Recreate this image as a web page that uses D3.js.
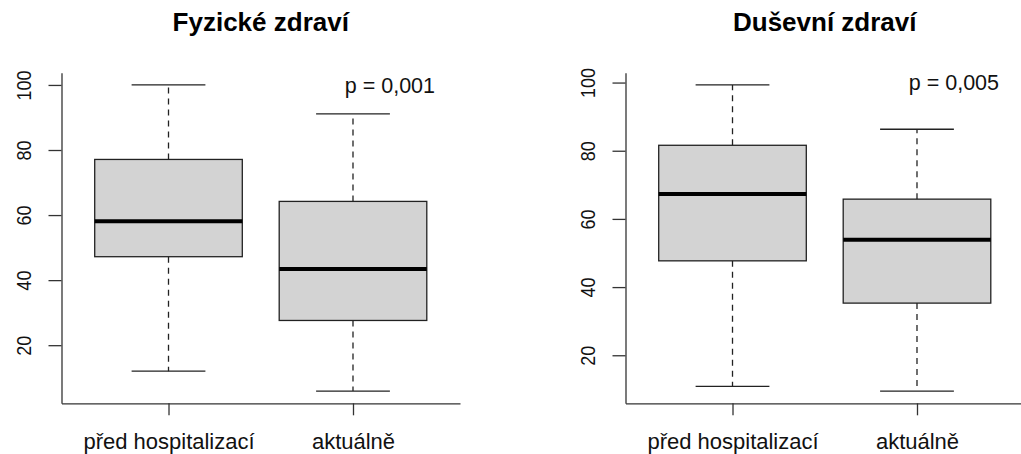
<!DOCTYPE html>
<html lang="cs">
<head>
<meta charset="utf-8">
<title>Fyzické a duševní zdraví</title>
<script src="https://cdn.jsdelivr.net/npm/d3@7"></script>
<style>
  html, body { margin: 0; padding: 0; background: #ffffff; }
  svg { display: block; font-family: "Liberation Sans", Arial, Helvetica, sans-serif; }
</style>
</head>
<body>
<svg id="chart" width="1021" height="454"></svg>
<script>
// Groups on the x axis
const categories = ["před hospitalizací", "aktuálně"];
// Panel titles and test results
const panelTitles = ["Fyzické zdraví", "Duševní zdraví"];
const pLabels = ["p = 0,001", "p = 0,005"];
// Y axis tick values
const yTicks = [20, 40, 60, 80, 100];

// Five-number summaries: [min, Q1, median, Q3, max]
const fyzickePred      = [12.0, 47.2, 58.1, 77.1, 100.0];
const fyzickeAktualne  = [ 5.9, 27.6, 43.4, 64.2,  91.1];
const dusevniPred      = [10.9, 47.7, 67.3, 81.6,  99.3];
const dusevniAktualne  = [ 9.5, 35.3, 53.9, 65.8,  86.3];

const panels = [
  { title: panelTitles[0], p: pLabels[0], boxes: [fyzickePred, fyzickeAktualne] },
  { title: panelTitles[1], p: pLabels[1], boxes: [dusevniPred, dusevniAktualne] }
];

const svg = d3.select("#chart");
const plotTop = 72.7, plotBottom = 403.3;
const panelLeft = [61.5, 625.5];
const panelWidth = 398.5;
const axisColor = "#333";

panels.forEach((panel, i) => {
  const x0 = panelLeft[i];
  const g = svg.append("g");

  // x: positions 1..n, padded like a base-R boxplot (0.5 either side, then 4%)
  const xlo = 0.5, xhi = categories.length + 0.5;
  const xpad = (xhi - xlo) * 0.04;
  const x = d3.scaleLinear().domain([xlo - xpad, xhi + xpad]).range([x0, x0 + panelWidth]);

  // y: data range padded by 4%
  const lo = d3.min(panel.boxes, b => b[0]);
  const hi = d3.max(panel.boxes, b => b[4]);
  const ypad = (hi - lo) * 0.04;
  const y = d3.scaleLinear().domain([lo - ypad, hi + ypad]).range([plotBottom, plotTop]);

  // Boxes
  const boxW = 0.8, capW = 0.4;
  panel.boxes.forEach((b, k) => {
    const c = k + 1;
    const bg = g.append("g");
    // whiskers (dashed)
    bg.append("line")
      .attr("x1", x(c)).attr("x2", x(c)).attr("y1", y(b[3])).attr("y2", y(b[4]))
      .attr("stroke", "#222").attr("stroke-width", 1.3).attr("stroke-dasharray", "6,5");
    bg.append("line")
      .attr("x1", x(c)).attr("x2", x(c)).attr("y1", y(b[1])).attr("y2", y(b[0]))
      .attr("stroke", "#222").attr("stroke-width", 1.3).attr("stroke-dasharray", "6,5");
    // caps
    [b[0], b[4]].forEach(v => {
      bg.append("line")
        .attr("x1", x(c - capW / 2)).attr("x2", x(c + capW / 2))
        .attr("y1", y(v)).attr("y2", y(v))
        .attr("stroke", "#222").attr("stroke-width", 1.3);
    });
    // box
    bg.append("rect")
      .attr("x", x(c - boxW / 2)).attr("width", x(c + boxW / 2) - x(c - boxW / 2))
      .attr("y", y(b[3])).attr("height", y(b[1]) - y(b[3]))
      .attr("fill", "#d3d3d3").attr("stroke", "#222").attr("stroke-width", 1.3);
    // median
    bg.append("line")
      .attr("x1", x(c - boxW / 2)).attr("x2", x(c + boxW / 2))
      .attr("y1", y(b[2])).attr("y2", y(b[2]))
      .attr("stroke", "#000").attr("stroke-width", 4);
  });

  // Y axis (labels turned parallel to the axis)
  const yAxis = g.append("g")
    .attr("transform", `translate(${x0},0)`)
    .call(d3.axisLeft(y).tickValues(yTicks).tickSize(13).tickSizeOuter(0));
  yAxis.select(".domain").attr("stroke", axisColor).attr("stroke-width", 1.3);
  yAxis.selectAll(".tick line").attr("stroke", axisColor).attr("stroke-width", 1.3);
  yAxis.selectAll(".tick text")
    .attr("x", null).attr("dy", null)
    .attr("transform", "translate(-31,0) rotate(-90) scale(1,1.12)")
    .attr("text-anchor", "middle")
    .attr("font-size", 18)
    .attr("fill", "#111");

  // X axis
  const xAxis = g.append("g")
    .attr("transform", `translate(0,${plotBottom})`)
    .call(d3.axisBottom(x).tickValues(categories.map((_, k) => k + 1))
      .tickFormat(d => categories[d - 1]).tickSize(12).tickSizeOuter(0));
  xAxis.select(".domain").attr("stroke", axisColor).attr("stroke-width", 1.3);
  xAxis.selectAll(".tick line").attr("stroke", axisColor).attr("stroke-width", 1.3);
  xAxis.selectAll(".tick text")
    .attr("y", 46).attr("dy", null)
    .attr("font-size", 22)
    .attr("fill", "#111");
  svg.selectAll("g").attr("font-family", null);

  // Title
  svg.append("text")
    .attr("x", x0 + panelWidth / 2).attr("y", 31)
    .attr("text-anchor", "middle")
    .attr("font-size", 26).attr("font-weight", "bold")
    .attr("fill", "#000")
    .text(panel.title);

  // p-value annotation
  g.append("text")
    .attr("x", x(2.2)).attr("y", y(100))
    .attr("dy", "0.36em")
    .attr("text-anchor", "middle")
    .attr("font-size", 21.5)
    .attr("fill", "#111")
    .text(panel.p);
});
</script>
</body>
</html>
